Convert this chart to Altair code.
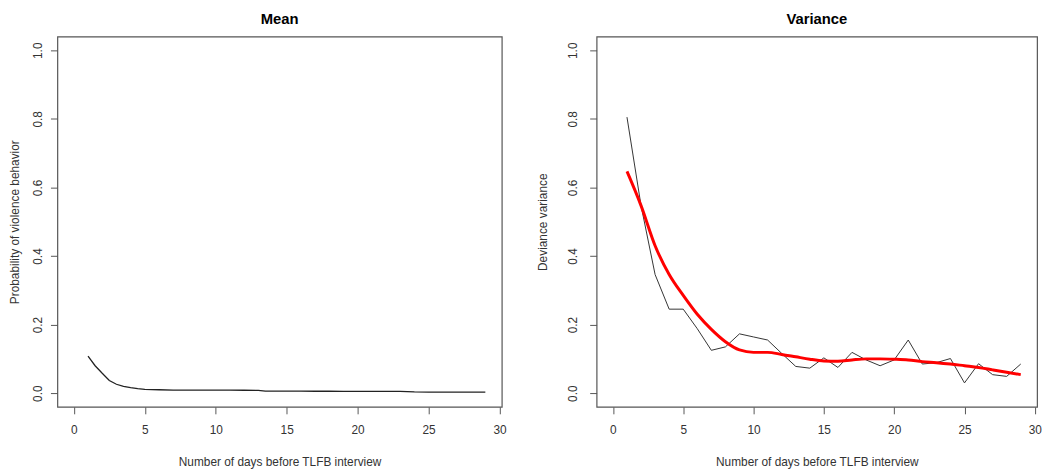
import altair as alt
import pandas as pd

# ---- data ----
mean_days = [1, 1.5, 2, 2.5, 3, 3.5, 4, 4.5, 5, 6, 7, 8, 9, 10, 11, 12, 13, 13.5,
             14, 15, 16, 17, 18, 19, 20, 21, 22, 23, 24, 25, 26, 27, 28, 29]
mean_prob = [0.108, 0.080, 0.058, 0.037, 0.026, 0.020, 0.016, 0.013, 0.011, 0.010,
             0.009, 0.0086, 0.0086, 0.0086, 0.0086, 0.0085, 0.0084, 0.0060,
             0.0057, 0.0057, 0.0057, 0.0056, 0.0056, 0.0055, 0.0055, 0.0055, 0.0054,
             0.0054, 0.0035, 0.0030, 0.0030, 0.0030, 0.0029, 0.0029]

var_days = list(range(1, 30))
var_obs = [0.805, 0.547, 0.346, 0.245, 0.245, 0.188, 0.125, 0.135, 0.173, 0.164,
           0.155, 0.116, 0.078, 0.073, 0.103, 0.075, 0.119, 0.097, 0.080, 0.097,
           0.155, 0.085, 0.089, 0.101, 0.030, 0.086, 0.054, 0.049, 0.085]
var_smooth = [0.647, 0.547, 0.430, 0.346, 0.285, 0.230, 0.186, 0.150, 0.126, 0.119,
              0.119, 0.113, 0.106, 0.099, 0.094, 0.093, 0.097, 0.100, 0.100, 0.099,
              0.097, 0.092, 0.089, 0.085, 0.080, 0.075, 0.068, 0.061, 0.054]

x_ticks = [0, 5, 10, 15, 20, 25, 30]
y_ticks = [0.0, 0.2, 0.4, 0.6, 0.8, 1.0]
x_title = "Number of days before TLFB interview"

mean_df = pd.DataFrame({"day": mean_days, "value": mean_prob})
var_df = pd.DataFrame({"day": var_days, "obs": var_obs, "smooth": var_smooth})

FONT = "Liberation Sans"
x_dom = [-1.16, 30.16]
y_dom = [-0.04, 1.04]


def x_enc(field="day"):
    return alt.X(
        f"{field}:Q",
        scale=alt.Scale(domain=x_dom, nice=False, zero=False),
        axis=alt.Axis(values=x_ticks, title=x_title, grid=False, domain=False,
                      tickSize=7, tickColor="#555", labelPadding=11,
                      labelFlush=False, labelOverlap=False, labelFontSize=12,
                      labelColor="#333", labelFont=FONT, titleFont=FONT,
                      titleFontSize=12, titleFontWeight="normal",
                      titleColor="#333", titlePadding=21),
    )


def y_enc(field, title, label_pad, title_pad):
    return alt.Y(
        f"{field}:Q",
        scale=alt.Scale(domain=y_dom, nice=False, zero=False),
        axis=alt.Axis(values=y_ticks, format=".1f", title=title, grid=False,
                      domain=False, tickSize=7, tickColor="#555",
                      labelAngle=-90, labelAlign="center", labelBaseline="bottom",
                      labelPadding=label_pad, labelFlush=False, labelOverlap=False,
                      labelFontSize=12, labelColor="#333", labelFont=FONT,
                      titleFont=FONT, titleFontSize=12, titleFontWeight="normal",
                      titleColor="#333", titlePadding=title_pad),
    )


title_kw = dict(fontSize=15, fontWeight="bold", font=FONT, color="black",
                anchor="middle", offset=10)
box = alt.ViewBackground(stroke="#555", strokeWidth=1.2, fill="white")

left = (
    alt.Chart(mean_df)
    .mark_line(color="#222", strokeWidth=1.3, clip=True)
    .encode(x=x_enc(), y=y_enc("value", "Probability of violence behavior", 6, 10))
    .properties(width=450, height=375, view=box,
                title=alt.TitleParams("Mean", **title_kw))
)

base_r = alt.Chart(var_df).encode(x=x_enc())
obs = base_r.mark_line(color="#333", strokeWidth=1).encode(
    y=y_enc("obs", "Deviance variance", 10, 18))
smooth = base_r.mark_line(color="#ff0000", strokeWidth=3,
                          interpolate="monotone").encode(y="smooth:Q")
right = alt.layer(obs, smooth).properties(
    width=446, height=375, view=box,
    title=alt.TitleParams("Variance", **title_kw))

chart = (
    alt.hconcat(left, right, spacing=29)
    .properties(padding=0)
    .configure(background="white")
)

chart.save("out.html", embed_options={"renderer": "svg", "actions": False})
